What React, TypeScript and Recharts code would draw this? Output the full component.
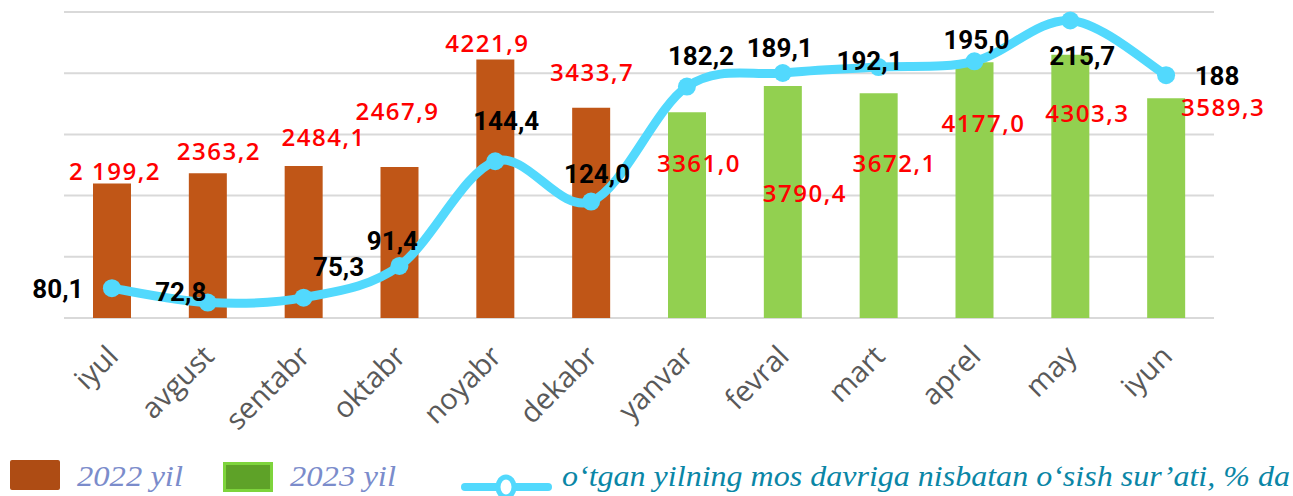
import { ComposedChart, Bar, Line, XAxis, YAxis, CartesianGrid, Cell, LabelList } from 'recharts'

// oylar
const months = ['iyul', 'avgust', 'sentabr', 'oktabr', 'noyabr', 'dekabr', 'yanvar', 'fevral', 'mart', 'aprel', 'may', 'iyun']
const values2022 = [2199.2, 2363.2, 2484.1, 2467.9, 4221.9, 3433.7]
const values2023 = [3361.0, 3790.4, 3672.1, 4177.0, 4303.3, 3589.3]
const growth = [80.1, 72.8, 75.3, 91.4, 144.4, 124.0, 182.2, 189.1, 192.1, 195.0, 215.7, 188]

const barLabelText = ['2 199,2', '2363,2', '2484,1', '2467,9', '4221,9', '3433,7', '3361,0', '3790,4', '3672,1', '4177,0', '4303,3', '3589,3']
const growthLabelText = ['80,1', '72,8', '75,3', '91,4', '144,4', '124,0', '182,2', '189,1', '192,1', '195,0', '215,7', '188']

// label joylashuvi (markaz, ustun/nuqtaga nisbatan)
const barLabelShift = [[3, -13], [11, -23], [20, -29], [-2, -56], [-8, -17], [1, -36], [12, 50], [22, 106], [16, 69], [9, 60], [17, 58], [57, 8]]
const growthLabelShift = [[-54, 1], [-27, -11], [35, -31], [-7, -25], [11, -40], [6, -28], [14, -31], [-3, -25], [-9, -6], [2, -21], [12, 36], [51, 1]]

const BROWN = '#c05617'
const GREEN = '#92d050'
const CYAN = '#52d9fd'

const data = months.map((m, i) => ({
  month: m,
  year: i < values2022.length ? 2022 : 2023,
  value: i < values2022.length ? values2022[i] : values2023[i - values2022.length],
  growth: growth[i],
}))

// Excel "smoothed line" ga o'xshash egri chiziq
const smoothCurve = (context: any) => {
  let pts: number[][] = []
  return {
    areaStart() {},
    areaEnd() {},
    lineStart() { pts = [] },
    point(x: number, y: number) { pts.push([+x, +y]) },
    lineEnd() {
      if (!pts.length) return
      context.moveTo(pts[0][0], pts[0][1])
      for (let i = 0; i < pts.length - 1; i++) {
        const p0 = pts[i - 1] || pts[i]
        const p1 = pts[i]
        const p2 = pts[i + 1]
        const p3 = pts[i + 2] || p2
        context.bezierCurveTo(
          p1[0] + (p2[0] - p0[0]) / 6, p1[1] + (p2[1] - p0[1]) / 6,
          p2[0] - (p3[0] - p1[0]) / 6, p2[1] - (p3[1] - p1[1]) / 6,
          p2[0], p2[1]
        )
      }
    },
  }
}

const BarValueLabel = (props: any) => {
  const { x, y, width, index } = props
  const [dx, dy] = barLabelShift[index]
  return (
    <text x={x + width / 2 + dx} y={y + dy} textAnchor="middle" dominantBaseline="central"
      fill="#ff0000" fontFamily="'Open Sans', sans-serif" fontWeight={600} fontSize={24} letterSpacing={1.5}>
      {barLabelText[index]}
    </text>
  )
}

const GrowthLabel = (props: any) => {
  const { x, y, index } = props
  const [dx, dy] = growthLabelShift[index]
  return (
    <text x={x + dx} y={y + dy} textAnchor="middle" dominantBaseline="central"
      fill="#000" fontFamily="Roboto, sans-serif" fontWeight={700} fontSize={26}>
      {growthLabelText[index]}
    </text>
  )
}

const MonthTick = (props: any) => {
  const { x, y, payload } = props
  return (
    <g transform={`translate(${x + 8},${y + 32})`}>
      <text transform="rotate(-45)" textAnchor="end" fill="#595959"
        fontFamily="'Open Sans', sans-serif" fontSize={29}>
        {payload.value}
      </text>
    </g>
  )
}

function ChartLegend() {
  return (
    <svg width={1293} height={60} style={{ position: 'absolute', left: 0, top: 440 }}>
      <rect x={10} y={20} width={50} height={30} rx={2} fill="#ae4c14" />
      <text x={77} y={46} fill="#7b8ccb" fontFamily="'Liberation Serif', serif" fontStyle="italic" fontSize={30}
        textLength={106} lengthAdjust="spacingAndGlyphs">2022 yil</text>
      <rect x={224.5} y={23.5} width={47} height={27} fill="#5ea228" stroke="#7ed43c" strokeWidth={3} />
      <text x={290} y={46} fill="#7b8ccb" fontFamily="'Liberation Serif', serif" fontStyle="italic" fontSize={30}
        textLength={106} lengthAdjust="spacingAndGlyphs">2023 yil</text>
      <line x1={465} y1={47} x2={548} y2={47} stroke={CYAN} strokeWidth={8} strokeLinecap="round" />
      <ellipse cx={506} cy={47} rx={8} ry={10} fill="#fff" stroke={CYAN} strokeWidth={5} />
      <text x={562} y={46} fill="#0a86a6" fontFamily="'Liberation Serif', serif" fontStyle="italic" fontSize={30}
        textLength={728} lengthAdjust="spacingAndGlyphs">o‘tgan yilning mos davriga nisbatan o‘sish sur’ati, % da</text>
    </svg>
  )
}

export default function App() {
  return (
    <div style={{ position: 'absolute', left: 0, top: 0, width: 1293, height: 496, background: '#fff' }}>
      <ComposedChart width={1293} height={496} data={data}
        margin={{ top: 12, right: 79, left: 64, bottom: 78 }}>
        <CartesianGrid yAxisId="bars" vertical={false} stroke="#d9d9d9" strokeWidth={2} />
        <XAxis dataKey="month" height={100} axisLine={false} tickLine={false} interval={0} tick={<MonthTick />} />
        <YAxis yAxisId="bars" hide domain={[0, 5000]} ticks={[0, 1000, 2000, 3000, 4000, 5000]} />
        <YAxis yAxisId="growth" hide domain={[65, 220]} />
        <Bar yAxisId="bars" dataKey="value" barSize={38} isAnimationActive={false}>
          {data.map((d, i) => (
            <Cell key={i} fill={d.year === 2022 ? BROWN : GREEN} />
          ))}
          <LabelList dataKey="value" content={<BarValueLabel />} />
        </Bar>
        <Line yAxisId="growth" dataKey="growth" type={smoothCurve as any} stroke={CYAN} strokeWidth={9}
          dot={{ r: 9, fill: CYAN, stroke: 'none' }} activeDot={false} isAnimationActive={false}>
          <LabelList dataKey="growth" content={<GrowthLabel />} />
        </Line>
      </ComposedChart>
      <ChartLegend />
    </div>
  )
}
